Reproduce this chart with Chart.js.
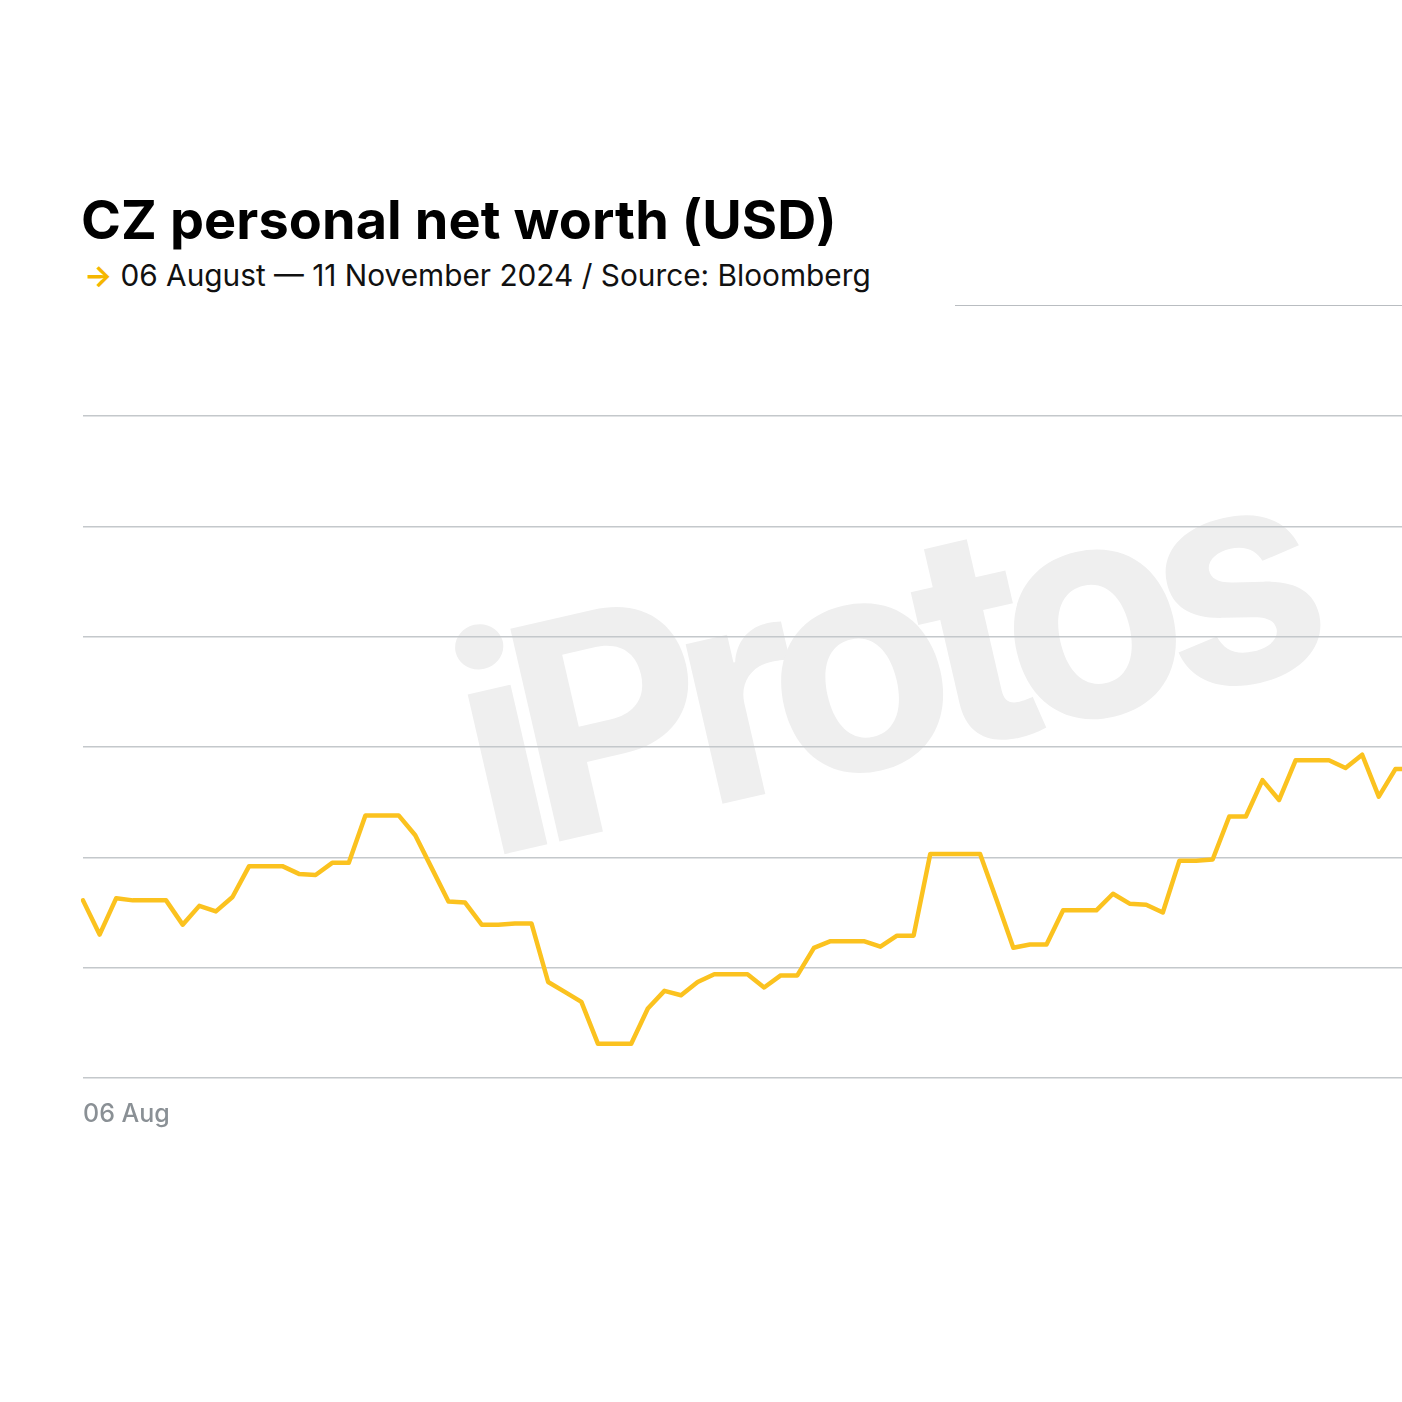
<!DOCTYPE html>
<html>
<head>
<meta charset="utf-8">
<script src="https://cdn.jsdelivr.net/npm/chart.js@4.4.1/dist/chart.umd.min.js"></script>
<style>
  html, body { margin: 0; padding: 0; background: #fff; width: 1402px; height: 1402px; overflow: hidden; }
  #wrap { position: relative; width: 1402px; height: 1402px; overflow: hidden; font-family: Inter, "Noto Sans", sans-serif; }
  #title { position: absolute; left: 81px; top: 187px; font-size: 54px; font-weight: 700; letter-spacing: 0.1px; color: #000; white-space: nowrap; }
  #sub { position: absolute; left: 84px; top: 257px; font-size: 29.8px; font-weight: 400; letter-spacing: 0; color: #111; white-space: nowrap; }
  #sub .arrow { color: #f5b700; font-weight: 700; margin-right: 8px; }
  #rule { position: absolute; left: 955px; top: 305px; width: 460px; height: 0; border-top: 1.5px solid #b9bdc1; }
  #mark { position: absolute; left: 428px; top: 606px; font-size: 300px; font-weight: 700; letter-spacing: -26px; color: #efefef; transform: rotate(-13deg); transform-origin: left top; white-space: nowrap; line-height: 1; }
  #c { position: absolute; left: 0; top: 0; }
</style>
</head>
<body>
<div id="wrap">
  <div id="mark">iProtos</div>
  <div id="title">CZ personal net worth (USD)</div>
  <div id="sub"><span class="arrow">→</span>06 August — 11 November 2024 / Source: Bloomberg</div>
  <div id="rule"></div>
  <canvas id="c" width="1425" height="1200"></canvas>
</div>
<script>
// daily points from 06 Aug; the picture is cut off on the right around late Oct
const dates = [
  '06 Aug','07 Aug','08 Aug','09 Aug','10 Aug','11 Aug','12 Aug','13 Aug','14 Aug','15 Aug',
  '16 Aug','17 Aug','18 Aug','19 Aug','20 Aug','21 Aug','22 Aug','23 Aug','24 Aug','25 Aug',
  '26 Aug','27 Aug','28 Aug','29 Aug','30 Aug','31 Aug','01 Sep','02 Sep','03 Sep','04 Sep',
  '05 Sep','06 Sep','07 Sep','08 Sep','09 Sep','10 Sep','11 Sep','12 Sep','13 Sep','14 Sep',
  '15 Sep','16 Sep','17 Sep','18 Sep','19 Sep','20 Sep','21 Sep','22 Sep','23 Sep','24 Sep',
  '25 Sep','26 Sep','27 Sep','28 Sep','29 Sep','30 Sep','01 Oct','02 Oct','03 Oct','04 Oct',
  '05 Oct','06 Oct','07 Oct','08 Oct','09 Oct','10 Oct','11 Oct','12 Oct','13 Oct','14 Oct',
  '15 Oct','16 Oct','17 Oct','18 Oct','19 Oct','20 Oct','21 Oct','22 Oct','23 Oct','24 Oct',
  '25 Oct'
];

// net worth, USD bn (no axis values are printed)
const netWorth = [
  41.61, 41.30, 41.63, 41.61, 41.61, 41.61, 41.39, 41.56, 41.51, 41.64,
  41.92, 41.92, 41.92, 41.85, 41.84, 41.95, 41.95, 42.38, 42.38, 42.38,
  42.20, 41.90, 41.60, 41.59, 41.39, 41.39, 41.40, 41.40, 40.87, 40.78,
  40.69, 40.31, 40.31, 40.31, 40.63, 40.79, 40.75, 40.87, 40.94, 40.94,
  40.94, 40.82, 40.93, 40.93, 41.18, 41.24, 41.24, 41.24, 41.19, 41.29,
  41.29, 42.03, 42.03, 42.03, 42.03, 41.61, 41.18, 41.21, 41.21, 41.52,
  41.52, 41.52, 41.67, 41.58, 41.57, 41.50, 41.97, 41.97, 41.98, 42.37,
  42.37, 42.70, 42.52, 42.88, 42.88, 42.88, 42.81, 42.93, 42.55, 42.80,
  42.80
];

const yMin = 40;
const yMax = 46;
const shownTicks = ['06 Aug'];

const ctx = document.getElementById('c');

new Chart(ctx, {
  type: 'line',
  data: {
    labels: dates,
    datasets: [{
      data: netWorth,
      borderColor: '#fbc21f',
      borderWidth: 4.5,
      pointRadius: 0,
      tension: 0,
      borderJoinStyle: 'round',
      borderCapStyle: 'round'
    }]
  },
  options: {
    responsive: false,
    devicePixelRatio: 1,
    animation: false,
    layout: { padding: { left: 83, top: 416, right: 11, bottom: 62 } },
    plugins: { legend: { display: false }, tooltip: { enabled: false } },
    scales: {
      x: {
        grid: { display: false },
        border: { display: false },
        afterFit: (s) => { s.height = 60; },
        ticks: {
          autoSkip: false,
          maxRotation: 0,
          align: 'start',
          padding: 13,
          color: '#8a9095',
          font: { family: 'Inter', size: 25, weight: '500' },
          callback: function (v, i) {
            const l = this.getLabelForValue(v);
            return shownTicks.includes(l) ? l : '';
          }
        }
      },
      y: {
        min: yMin,
        max: yMax,
        ticks: { display: false, stepSize: 1 },
        border: { display: false },
        afterFit: (s) => { s.width = 0; },
        grid: { color: '#c4c8cb', lineWidth: 1.5, drawTicks: false }
      }
    }
  }
});
</script>
</body>
</html>
